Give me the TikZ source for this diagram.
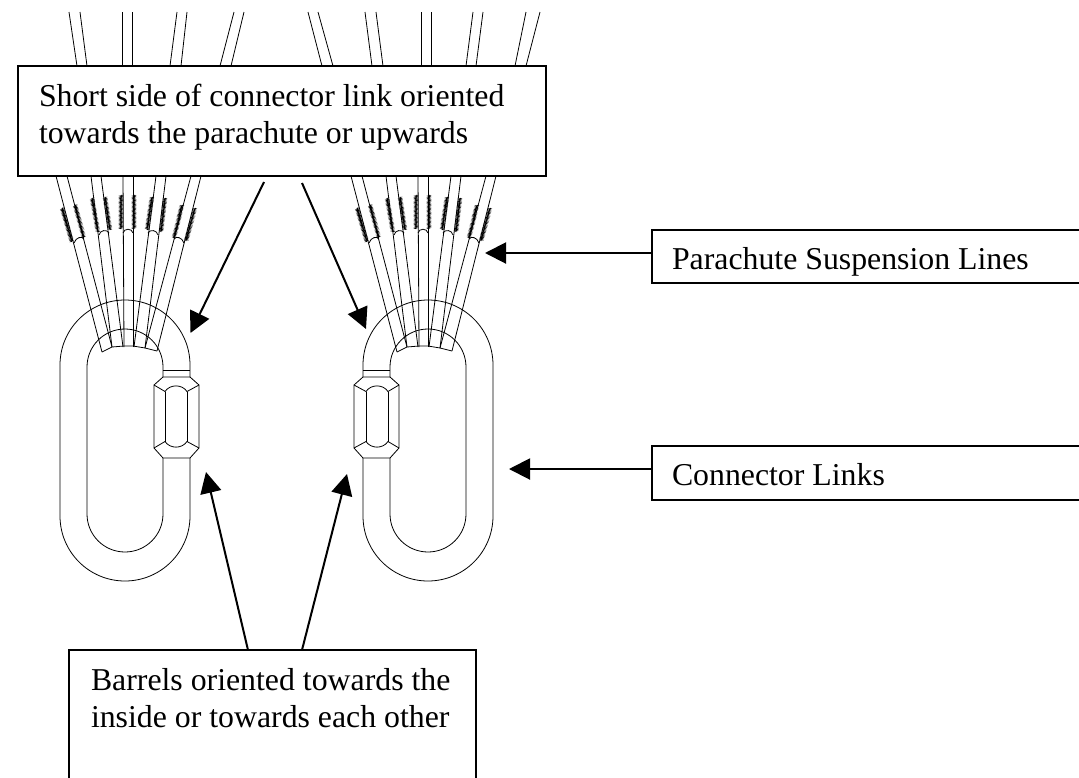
\documentclass[tikz,border=0pt]{standalone}
\usepackage{fontspec}
\setmainfont{Liberation Serif}
\usetikzlibrary{arrows.meta}
\usetikzlibrary{decorations.pathmorphing}

\tikzset{
  wire/.style={line width=0.8pt, black},
  stitch/.style={line width=0.5pt, decorate, decoration={zigzag,amplitude=1.4pt,segment length=1.3pt}},
  labelbox/.style={draw, line width=1.8pt, inner ysep=0pt, outer sep=0pt, align=flush left, anchor=north west,
    font=\fontsize{31.8}{37}\selectfont},
  pointer/.style={line width=2pt, -{Triangle[length=21pt,width=21pt]}}
}

% one connector link, barrel on its right
\newcommand{\connlink}{
\draw[wire] (190,458) -- (190,516) arc[start angle=0,end angle=180,radius=65] -- (60,365)
  arc[start angle=180,end angle=360,radius=65] -- (190,377);
\draw[wire] (163,458) -- (163,514) arc[start angle=0,end angle=180,radius=38] -- (87,367)
  arc[start angle=180,end angle=360,radius=38] -- (163,377);
%
\draw[wire] (163,370) -- (190,370);
\draw[wire] (163,377) -- (190,377) -- (199,385) -- (199,448) -- (190,458) -- (163,458) -- (154,448) -- (154,385) -- cycle;
\draw[wire] (154,385) -- (165,391.5) .. controls (170,384) and (182,384) .. (187,391.5) -- (199,385);
\draw[wire] (154,448) -- (165,441.5) .. controls (170,449) and (182,449) .. (187,441.5) -- (199,448);
\draw[wire] (165,391.5) -- (165,441.5);
\draw[wire] (187,391.5) -- (187,441.5);
}

\begin{document}
\begin{tikzpicture}[x=1pt,y=1pt,yscale=-1]
\useasboundingbox (0,0) rectangle (1079,777);
\clip (0,0) rectangle (1079,777);
%
\connlink
\begin{scope}[shift={(553,0)},xscale=-1]
\connlink
\end{scope}
%
% suspension lines below the top box
\foreach \sx in {0,295}{
\begin{scope}[shift={(\sx,0)}]
\foreach \xa/\xb/\yb in {56/102/352, 67/112/347, 91/112/347, 101/123/347, 123/124/347, 133/133/347, 156/134/347, 166/145/348, 191/145/348, 201/157/351}{
  \draw[wire] (\xa,176) -- (\xb,\yb);
}
\draw[wire] (102,352) -- (112,347) -- (124,346) -- (133,346) -- (145,348) -- (157,351);
\foreach \xa/\ya/\xb/\yb in {62/208/72/242, 75/205/84/238, 92/198/98/232, 105/197/110/230, 121/195/121/229, 134/195/134/229, 152/197/147/230, 165/198/161/232, 182/205/174/238, 195/208/186/241}{
  \draw[stitch] (\xa,\ya) -- (\xb,\yb);
}
\draw[wire] (74,243) .. controls (76,237) and (82,236) .. (84,239);
\draw[wire] (99,235) .. controls (100,230) and (107,229) .. (109,233);
\draw[wire] (123,233) .. controls (124,228) and (132,228) .. (133,233);
\draw[wire] (148,233) .. controls (150,229) and (157,230) .. (158,235);
\draw[wire] (174,239) .. controls (176,236) and (182,237) .. (184,243);
\end{scope}
}
%
% line ends above the top box
\foreach \xa/\xb in {69/77, 80/87, 122/122, 132/132, 177/170, 187/181, 234/220, 244/231, 308/322, 318/333, 365/372, 376/383, 421/421, 431/431, 473/466, 483/476, 526/515, 540/526}{
  \draw[wire] (\xa,12) -- (\xb,66);
}
%
\node[labelbox, inner xsep=21pt, text width=486pt, text height=40pt, text depth=70pt] (shortbox) at (18,66)
  {Short side of connector link oriented\\towards the parachute or upwards};
\node[labelbox, inner xsep=20pt, text width=420pt, text height=39pt, text depth=14pt] (linesbox) at (652,230)
  {Parachute Suspension Lines};
\node[labelbox, inner xsep=20pt, text width=420pt, text height=39pt, text depth=15pt] (linksbox) at (652,446)
  {Connector Links};
\node[labelbox, inner xsep=22pt, text width=363pt, text height=40pt, text depth=110pt] (barrelbox) at (69,650)
  {Barrels oriented towards the\\inside or towards each other};
%
\coordinate (shortA) at (264,182);
\coordinate (shortB) at (302,183);
\coordinate (tipA) at (190.5,333);
\coordinate (tipB) at (366,329);
\coordinate (tipC) at (485,253);
\coordinate (tipD) at (509,469);
\coordinate (tipE) at (206,472);
\coordinate (tipF) at (347,474);
\coordinate (barrelA) at (248,650);
\coordinate (barrelB) at (302,650);
%
\draw[pointer] (shortA) -- (tipA);
\draw[pointer] (shortB) -- (tipB);
\draw[pointer] (linesbox.west |- tipC) -- (tipC);
\draw[pointer] (linksbox.west |- tipD) -- (tipD);
\draw[pointer] (barrelA) -- (tipE);
\draw[pointer] (barrelB) -- (tipF);
\end{tikzpicture}
\end{document}
